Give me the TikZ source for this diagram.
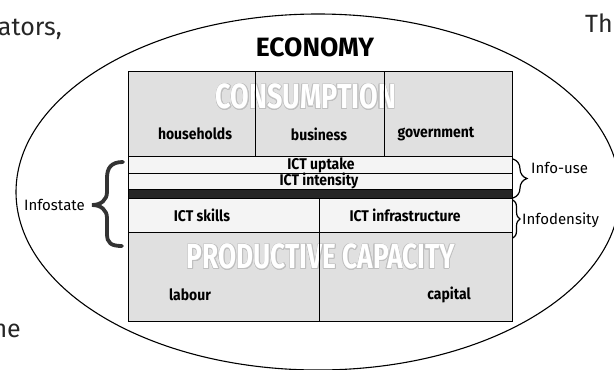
\documentclass[tikz,border=0pt]{standalone}
\usepackage{fontspec}
\setmainfont{Fira Sans}
\newfontfamily\narrowfont[FakeStretch=0.9]{Fira Sans}
\usepackage{contour}
\usetikzlibrary{decorations.pathreplacing}
\contourlength{0.7pt}
\contournumber{16}

\begin{document}
\begin{tikzpicture}[x=1pt,y=-1pt,
  dense/.style={fill=gray!24},
  light/.style={fill=gray!9},
  rule/.style={draw=black, line width=0.9pt},
  lab/.style={font=\narrowfont\bfseries\fontsize{15.5}{17}\selectfont, inner sep=0pt},
  side/.style={font=\fontsize{15}{17}\selectfont, inner sep=0pt},
  ghost/.style={text=white, font=\bfseries\fontsize{35}{36}\selectfont, inner sep=0pt},
  page/.style={font=\fontsize{25}{28}\selectfont, text=black!85, inner sep=0pt},
  thinbrace/.style={decorate, line width=1.2pt},
]
\useasboundingbox (0,0) rectangle (614,370);

\begin{scope}
  \clip (0,0) rectangle (614,370);
  % running text of the surrounding page
  \node[page, anchor=base east] (txtA) at (62,35) {ators,};
  \node[page, anchor=base west] (txtB) at (585,32) {The};
  \node[page, anchor=base east] (txtC) at (21,337) {ne};
  % the economy
  \draw[line width=1.1pt] (318,192) ellipse [x radius=302pt, y radius=178pt];
\end{scope}

\node[font=\bfseries\fontsize{26.5}{28}\selectfont, inner sep=0pt] (eco) at (315,47) {ECONOMY};

% background bands
\fill[dense] (128,71) rectangle (512,156);
\fill[light] (128,156) rectangle (512,189);
\fill[black!85] (128,189) rectangle (512,198);
\fill[light] (128,198) rectangle (512,232);
\fill[dense] (128,232) rectangle (512,321);

% large ghost headings
\node[ghost] (cons) at (306,97) {\scalebox{0.77}[1]{\contour{gray!50}{CONSUMPTION}}};
\node[ghost] (prod) at (321,257) {\scalebox{0.75}[1]{\contour{gray!50}{PRODUCTIVE CAPACITY}}};

% grid lines
\draw[rule] (128,156) -- (512,156);
\draw[rule] (128,173) -- (512,173);
\draw[rule] (128,189) -- (512,189);
\draw[rule] (128,198) -- (512,198);
\draw[rule] (128,232) -- (512,232);
\draw[rule] (255,71) -- (255,156);
\draw[rule] (384,71) -- (384,156);
\draw[rule] (319,198) -- (319,321);
\draw[rule] (128,71) rectangle (512,321);

% cell labels
\node[lab] (hh)  at (195,134) {households};
\node[lab] (bus) at (319,134) {business};
\node[lab] (gov) at (436,134) {government};
\node[lab] (upt) at (321,165) {ICT uptake};
\node[lab] (int) at (319,181) {ICT intensity};
\node[lab] (skl) at (202,215) {ICT skills};
\node[lab] (inf) at (405,215) {ICT infrastructure};
\node[lab] (lab) at (190,295) {labour};
\node[lab] (cap) at (449,295) {capital};

% left brace: Infostate
\draw[line width=3.8pt, draw=black!80, line cap=round]
  (123,162) .. controls (111,162) and (107,168) .. (107,178)
  -- (107,192) .. controls (107,200) and (101,205) .. (92,205)
  .. controls (101,205) and (107,210) .. (107,218)
  -- (107,234) .. controls (107,243) and (111,246) .. (122,246);
\node[side, anchor=east] (istate) at (85,205) {Infostate};

% right braces
\coordinate (u1) at (513,159);
\coordinate (u2) at (513,198);
\coordinate (d1) at (513,200);
\coordinate (d2) at (513,238);
\draw[thinbrace, decoration={brace, amplitude=14pt}] (u1) -- (u2);
\draw[thinbrace, decoration={brace, amplitude=7pt}] (d1) -- (d2);
\node[side, anchor=west] (iuse) at (531,168) {Info-use};
\node[side, anchor=west] (idens) at (522,220) {Infodensity};
\end{tikzpicture}
\end{document}
